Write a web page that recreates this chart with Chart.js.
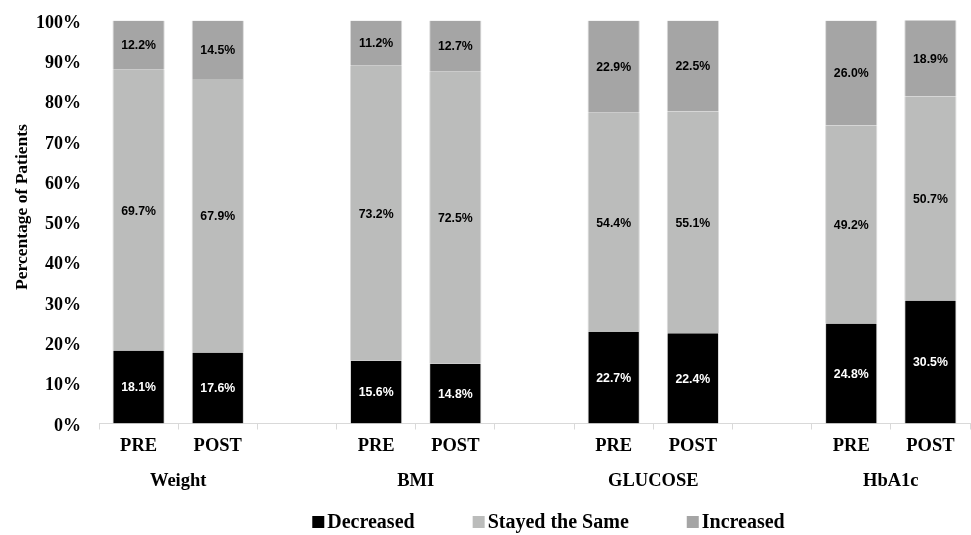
<!DOCTYPE html>
<html>
<head>
<meta charset="utf-8">
<script src="https://cdn.jsdelivr.net/npm/chart.js@4/dist/chart.umd.min.js"></script>
<style>
  html, body { margin: 0; padding: 0; background: #ffffff; }
  #wrap { width: 971px; height: 535px; position: relative; }
</style>
</head>
<body>
<div id="wrap"><canvas id="c" width="971" height="535"></canvas></div>
<script>
// Measures and time points
const groups = ['Weight', 'BMI', 'GLUCOSE', 'HbA1c'];
const phases = ['PRE', 'POST'];

// Share of patients (%) per measure, in order PRE/POST for each group
const decreased = [18.1, 17.6, 15.6, 14.8, 22.7, 22.4, 24.8, 30.5];
const stayedSame = [69.7, 67.9, 73.2, 72.5, 54.4, 55.1, 49.2, 50.7];
const increased = [12.2, 14.5, 11.2, 12.7, 22.9, 22.5, 26.0, 18.9];

const yTicks = [0, 10, 20, 30, 40, 50, 60, 70, 80, 90, 100];

const seriesNames = ['Decreased', 'Stayed the Same', 'Increased'];
const seriesColors = ['#000000', '#BBBCBB', '#A5A5A5'];
const labelColors = ['#ffffff', '#000000', '#000000'];

// Build category slots: each group has PRE and POST, with an empty spacer slot between groups
const labels = [];
const slotIndex = []; // position of each value in the slot list
const groupSlots = [];
groups.forEach((g, gi) => {
  if (gi > 0) labels.push('');
  const start = labels.length;
  phases.forEach(p => { slotIndex.push(labels.length); labels.push(p); });
  groupSlots.push([start, start + 1]);
});
function toSlots(values) {
  const out = labels.map(() => null);
  values.forEach((v, i) => { out[slotIndex[i]] = v; });
  return out;
}

const SERIF = "'Liberation Serif', 'Times New Roman', serif";
const SANS = "'Liberation Sans', Arial, sans-serif";

// Percent labels in the middle of every segment
const segmentLabels = {
  id: 'segmentLabels',
  afterDatasetsDraw(chart) {
    const ctx = chart.ctx;
    ctx.save();
    ctx.font = 'bold 12.3px ' + SANS;
    ctx.textAlign = 'center';
    ctx.textBaseline = 'middle';
    chart.data.datasets.forEach((ds, di) => {
      const meta = chart.getDatasetMeta(di);
      meta.data.forEach((bar, i) => {
        const v = ds.data[i];
        if (v === null || v === undefined) return;
        ctx.fillStyle = labelColors[di];
        ctx.fillText(v.toFixed(1) + '%', bar.x, (bar.y + bar.base) / 2 + 1);
      });
    });
    ctx.restore();
  }
};

// Group names under each PRE/POST pair, the y title and the legend
const extras = {
  id: 'extras',
  afterDraw(chart) {
    const ctx = chart.ctx;
    const x = chart.scales.x;
    ctx.save();
    ctx.fillStyle = '#000000';
    ctx.textAlign = 'center';
    ctx.textBaseline = 'middle';
    ctx.font = 'bold 18.5px ' + SERIF;
    groupSlots.forEach((s, gi) => {
      const cx = (x.getPixelForValue(s[0]) + x.getPixelForValue(s[1])) / 2;
      ctx.fillText(groups[gi], cx, 481);
    });

    // y axis title
    ctx.save();
    ctx.translate(22, 207);
    ctx.rotate(-Math.PI / 2);
    ctx.font = 'bold 17.5px ' + SERIF;
    ctx.fillText('Percentage of Patients', 0, 0);
    ctx.restore();

    // legend
    ctx.font = 'bold 20px ' + SERIF;
    ctx.textAlign = 'left';
    const box = 12, boxGap = 3, itemGap = 58;
    const widths = chart.data.datasets.map(ds => box + boxGap + ctx.measureText(ds.label).width);
    const total = widths.reduce((a, b) => a + b, 0) + itemGap * (widths.length - 1);
    let lx = 548.5 - total / 2;
    const ly = 522;
    chart.data.datasets.forEach((ds, di) => {
      ctx.fillStyle = ds.backgroundColor;
      ctx.fillRect(lx, ly - box / 2, box, box);
      ctx.fillStyle = '#000000';
      ctx.fillText(ds.label, lx + box + boxGap, ly + 1);
      lx += widths[di] + itemGap;
    });
    ctx.restore();
  }
};

const datasets = [decreased, stayedSame, increased].map((vals, i) => ({
  label: seriesNames[i],
  data: toSlots(vals),
  backgroundColor: seriesColors[i],
  borderColor: '#D9D9D9',
  borderWidth: { left: 1, right: 1, top: 0, bottom: 0 },
  borderSkipped: false,
  barPercentage: 0.66,
  categoryPercentage: 1.0
}));

new Chart(document.getElementById('c'), {
  type: 'bar',
  data: { labels, datasets },
  options: {
    responsive: false,
    animation: false,
    devicePixelRatio: 1,
    layout: { padding: { top: 20.5, right: 1, left: 0, bottom: 0 } },
    plugins: {
      legend: { display: false },
      tooltip: { enabled: false }
    },
    scales: {
      x: {
        stacked: true,
        grid: {
          display: true,
          drawOnChartArea: false,
          drawTicks: true,
          tickLength: 6,
          color: '#D9D9D9',
          offset: true
        },
        border: { display: true, color: '#D9D9D9', width: 1 },
        ticks: {
          color: '#000000',
          font: { family: SERIF, size: 18.5, weight: 'bold' },
          padding: 6,
          maxRotation: 0,
          autoSkip: false
        },
        afterFit(scale) { scale.height = 111.5; scale.paddingLeft = 0; scale.paddingRight = 0; }
      },
      y: {
        stacked: true,
        min: 0,
        max: 100,
        afterBuildTicks(scale) { scale.ticks = yTicks.map(v => ({ value: v })); },
        grid: { display: false, drawTicks: false },
        border: { display: false },
        ticks: {
          color: '#000000',
          font: { family: SERIF, size: 18, weight: 'bold' },
          padding: 18,
          labelOffset: 2.5,
          callback: v => v + '%'
        },
        afterFit(scale) { scale.width = 99; scale.paddingTop = 0; scale.paddingBottom = 0; }
      }
    }
  },
  plugins: [segmentLabels, extras]
});
</script>
</body>
</html>
